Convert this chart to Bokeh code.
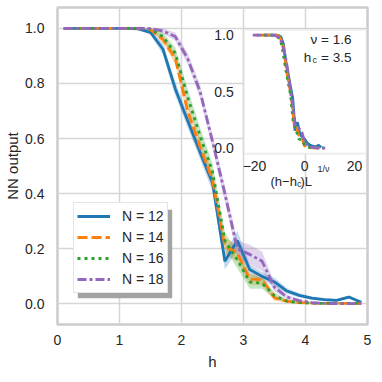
from bokeh.plotting import figure
from bokeh.models import (Legend, LegendItem, BoxAnnotation, Label, FixedTicker,
                          NumeralTickFormatter, LinearAxis, Range1d)
from bokeh.embed import file_html
from bokeh.resources import INLINE

# ---------------- data ----------------
h = [0.1, 0.3, 0.5, 0.7, 0.9, 1.1, 1.3, 1.5, 1.7, 1.9, 2.1, 2.3, 2.5,
     2.7, 2.9, 3.1, 3.3, 3.5, 3.7, 3.9, 4.1, 4.3, 4.5, 4.7, 4.9]

sizes = [12, 14, 16, 18]
labels = ["N = 12", "N = 14", "N = 16", "N = 18"]

n12 = [1.0, 1.0, 1.0, 1.0, 1.0, 1.0, 0.998, 0.985, 0.925, 0.78, 0.665, 0.55, 0.44,
       0.155, 0.23, 0.125, 0.10, 0.08, 0.047, 0.031, 0.021, 0.016, 0.013, 0.025, 0.006]
n14 = [1.0, 1.0, 1.0, 1.0, 1.0, 1.0, 1.0, 0.995, 0.96, 0.89, 0.70, 0.57, 0.45,
       0.21, 0.185, 0.09, 0.088, 0.022, 0.01, 0.005, 0.003, 0.002, 0.002, 0.002, 0.002]
n16 = [1.0, 1.0, 1.0, 1.0, 1.0, 1.0, 1.0, 0.997, 0.97, 0.91, 0.75, 0.61, 0.48,
       0.23, 0.16, 0.08, 0.075, 0.03, 0.01, 0.005, 0.003, 0.002, 0.002, 0.002, 0.002]
n18 = [1.0, 1.0, 1.0, 1.0, 1.0, 1.0, 1.0, 0.999, 0.99, 0.97, 0.89, 0.77, 0.59,
       0.40, 0.20, 0.18, 0.155, 0.06, 0.025, 0.012, 0.005, 0.002, 0.001, 0.001, 0.001]

s12 = [0, 0, 0, 0, 0, 0, 0.002, 0.008, 0.02, 0.025, 0.025, 0.025, 0.03,
       0.03, 0.035, 0.02, 0.015, 0.015, 0.01, 0.008, 0.006, 0.006, 0.005, 0.006, 0.004]
s14 = [0, 0, 0, 0, 0, 0, 0.001, 0.004, 0.015, 0.02, 0.03, 0.03, 0.03,
       0.03, 0.03, 0.02, 0.02, 0.01, 0.006, 0.004, 0.002, 0.002, 0.002, 0.002, 0.002]
s16 = [0, 0, 0, 0, 0, 0, 0.001, 0.004, 0.015, 0.02, 0.03, 0.03, 0.03,
       0.03, 0.03, 0.025, 0.02, 0.012, 0.006, 0.004, 0.002, 0.002, 0.002, 0.002, 0.002]
s18 = [0, 0, 0, 0, 0, 0, 0.001, 0.003, 0.01, 0.015, 0.02, 0.025, 0.025,
       0.03, 0.03, 0.035, 0.035, 0.015, 0.008, 0.005, 0.003, 0.002, 0.001, 0.001, 0.001]

nu = 1.6
hc = 3.5

series = [n12, n14, n16, n18]
spreads = [s12, s14, s16, s18]

colors = ["#1f77b4", "#ff7f0e", "#2ca02c", "#9467bd"]
dashes = ["solid", "10 4", "3 4", "9 3 3 3"]

FONT = "Liberation Sans"
TXT = "#262626"

# ---------------- layout geometry (canvas pixels) ----------------
W, H = 382, 382
FX0, FX1, FY0, FY1 = 57.0, 367.0, 7.0, 324.0          # main frame
IX0, IX1, IY0, IY1 = 243.3, 366.0, 29.0, 153.3        # inset frame
ix0, ix1, iy0, iy1 = -24.3, 24.8, -0.05, 1.05         # inset data limits

sx = (IX1 - IX0) / (ix1 - ix0)
sy = (IY1 - IY0) / (iy1 - iy0)
inset_x = Range1d(ix0 - (IX0 - FX0) / sx, ix1 + (FX1 - IX1) / sx)
inset_y = Range1d(iy0 - (FY1 - IY1) / sy, iy1 + (IY0 - FY0) / sy)

# ---------------- main figure ----------------
p = figure(width=W, height=H, x_range=(0, 5), y_range=(-0.0745, 1.0755),
           output_backend="svg", toolbar_location=None,
           min_border_left=int(FX0), min_border_right=int(W - FX1),
           min_border_top=int(FY0), min_border_bottom=int(H - FY1))
p.extra_x_ranges = {"ix": inset_x}
p.extra_y_ranges = {"iy": inset_y}
p.background_fill_color = "white"
p.border_fill_color = "white"
p.outline_line_color = "#cccccc"
p.outline_line_width = 2.5

p.xaxis.ticker = FixedTicker(ticks=[0, 1, 2, 3, 4, 5])
p.yaxis.ticker = FixedTicker(ticks=[0.0, 0.2, 0.4, 0.6, 0.8, 1.0])
p.yaxis.formatter = NumeralTickFormatter(format="0.0")
for ax in (p.xaxis, p.yaxis):
    ax.axis_line_color = None
    ax.major_tick_line_color = None
    ax.minor_tick_line_color = None
    ax.major_label_text_font = FONT
    ax.major_label_text_font_size = "14px"
    ax.major_label_text_color = TXT
    ax.axis_label_text_font = FONT
    ax.axis_label_text_font_size = "15px"
    ax.axis_label_text_font_style = "normal"
    ax.axis_label_text_color = TXT
p.xaxis.axis_label = "h"
p.yaxis.axis_label = "NN output"
p.xaxis.major_label_standoff = 4
p.yaxis.major_label_standoff = 7
p.xaxis.axis_label_standoff = 5
p.yaxis.axis_label_standoff = 1
p.grid.grid_line_color = "#d6d6d6"
p.grid.grid_line_width = 1.5

renderers = []
for ys, ss, c in zip(series, spreads, colors):
    lo = [y - s for y, s in zip(ys, ss)]
    hi = [y + s for y, s in zip(ys, ss)]
    p.varea(x=h, y1=lo, y2=hi, fill_color=c, fill_alpha=0.28)
for ys, c, d in zip(series, colors, dashes):
    r = p.line(x=h, y=ys, line_color=c, line_width=2.8, line_dash=d)
    renderers.append(r)

shadow = BoxAnnotation(left=0.327, right=1.85, bottom=0.021, top=0.3417,
                       fill_color="#a3a3a3", fill_alpha=1.0, line_color=None)
p.add_layout(shadow)

legend = Legend(items=[LegendItem(label=l, renderers=[r]) for l, r in zip(labels, renderers)],
                location=(16, 31), padding=3, spacing=1, glyph_width=33, glyph_height=20,
                label_height=20, label_standoff=12, label_text_font=FONT,
                label_text_font_size="14px", label_text_color=TXT,
                border_line_color="#cccccc", border_line_width=1,
                background_fill_color="white", background_fill_alpha=1.0, margin=0)
p.add_layout(legend)

# ---------------- inset (drawn on extra ranges) ----------------
inset_box = BoxAnnotation(left=ix0, right=ix1, bottom=iy0, top=iy1,
                          x_range_name="ix", y_range_name="iy",
                          fill_color="white", fill_alpha=1.0,
                          line_color="#cccccc", line_width=2.5, level="underlay")
p.add_layout(inset_box)

ax_ix = LinearAxis(x_range_name="ix", y_range_name="iy", fixed_location=iy0,
                   ticker=FixedTicker(ticks=[-20, 0, 20]))
ax_iy = LinearAxis(x_range_name="ix", y_range_name="iy", fixed_location=ix0,
                   ticker=FixedTicker(ticks=[0.0, 0.5, 1.0]),
                   formatter=NumeralTickFormatter(format="0.0"))
for ax in (ax_ix, ax_iy):
    ax.axis_line_color = None
    ax.major_tick_line_color = None
    ax.minor_tick_line_color = None
    ax.major_label_text_font = FONT
    ax.major_label_text_font_size = "14px"
    ax.major_label_text_color = TXT
ax_ix.major_label_standoff = 1
ax_iy.major_label_standoff = 4
p.add_layout(ax_ix, "below")
p.add_layout(ax_iy, "left")

for L, ys, c, d in zip(sizes, series, colors, dashes):
    xs = [(hv - hc) * L ** (1.0 / nu) for hv in h]
    p.line(x=xs, y=ys, line_color=c, line_width=2.8, line_dash=d,
           x_range_name="ix", y_range_name="iy")

def lab(text, x, y, size, align="left"):
    p.add_layout(Label(x=x, y=y, text=text, text_font=FONT, text_font_size=size,
                       text_color=TXT, text_align=align, text_baseline="alphabetic",
                       x_range_name="ix", y_range_name="iy"))

lab("ν = 1.6", 18.8, 0.96, "13.5px", "right")
lab("h", -0.3, 0.805, "13.5px")
lab("c", 3.2, 0.782, "9px")
lab("= 3.5", 18.8, 0.805, "13.5px", "right")
lab("(h−h", -13.6, -0.293, "13px")
lab("c", -3.0, -0.316, "9px")
lab(")L", -1.6, -0.293, "13px")
lab("1/ν", 5.2, -0.183, "9px")

open("out.html", "w").write(file_html(p, INLINE))
